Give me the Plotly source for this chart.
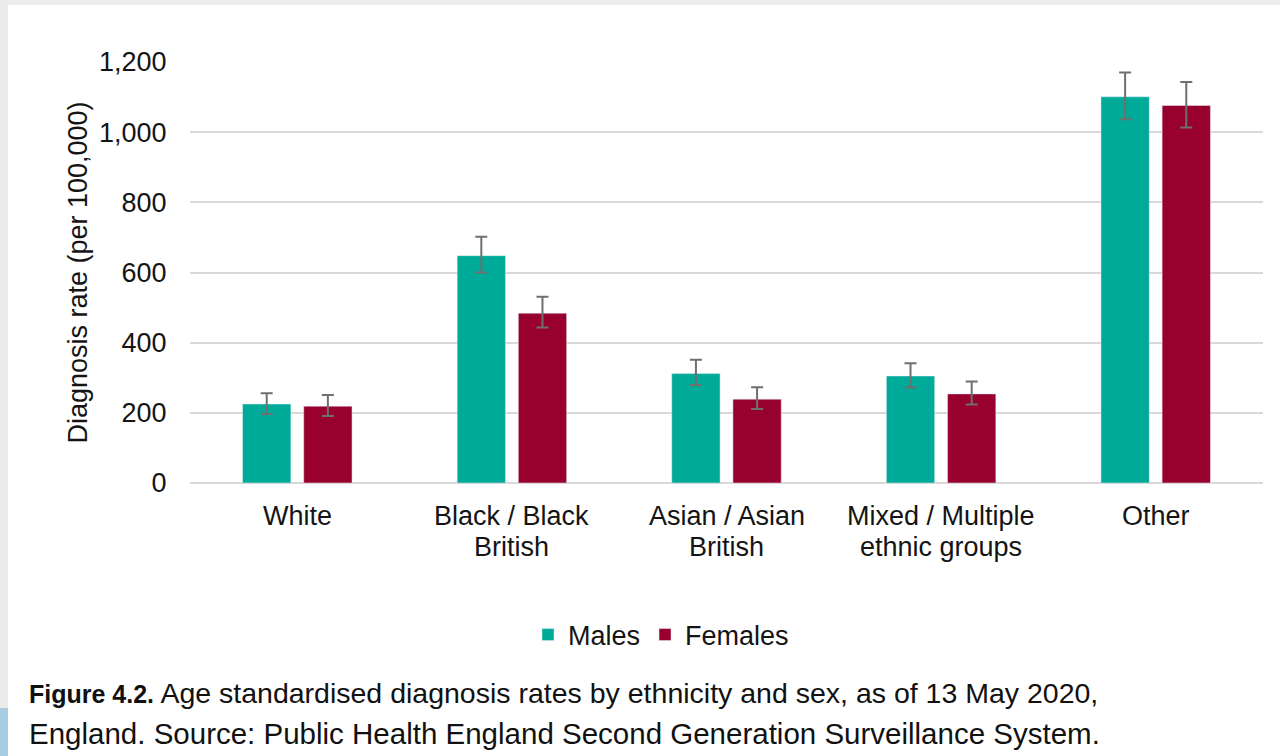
import plotly.graph_objects as go

# Age standardised diagnosis rates per 100,000 with 95% confidence limits
categories = ["White", "Black / Black British", "Asian / Asian British",
              "Mixed / Multiple ethnic groups", "Other"]
category_lines = [["White"], ["Black / Black", "British"], ["Asian / Asian", "British"],
                  ["Mixed / Multiple", "ethnic groups"], ["Other"]]
males = [225, 648, 312, 305, 1101]
males_low = [197, 600, 279, 272, 1037]
males_high = [256, 702, 351, 341, 1170]
females = [219, 484, 239, 254, 1076]
females_low = [191, 443, 211, 224, 1013]
females_high = [251, 531, 273, 289, 1143]
y_ticks = [0, 200, 400, 600, 800, 1000, 1200]
y_tick_text = ["0", "200", "400", "600", "800", "1,000", "1,200"]

W, H = 1280, 756
L, R, T, B = 190, 17, 62, 273
PW, PH = W - L - R, H - T - B


def px_x(x):
    return (x - L) / PW


def px_y(y):
    return (H - B - y) / PH


FONT = "Liberation Sans, Arial, sans-serif"
TEXT = "#141414"
TEAL = "#00AA99"
MAROON = "#98002E"
ERR = "#6f6f6f"
FS = 27


def err(vals, lo, hi, color):
    return dict(type="data", symmetric=False,
                array=[h - v for v, h in zip(vals, hi)],
                arrayminus=[v - l for v, l in zip(vals, lo)],
                color=color, thickness=2, width=6)


fig = go.Figure()
fig.add_bar(x=categories, y=males, name="Males", marker_color=TEAL,
            error_y=err(males, males_low, males_high, ERR))
fig.add_bar(x=categories, y=females, name="Females", marker_color=MAROON,
            error_y=err(females, females_low, females_high, ERR))

fig.update_layout(
    width=W, height=H,
    margin=dict(l=L, r=R, t=T, b=B, pad=0),
    paper_bgcolor="white", plot_bgcolor="white",
    barmode="group", bargap=0.43, bargroupgap=0.21,
    font=dict(family=FONT, color=TEXT, size=FS),
    showlegend=True,
    legend=dict(orientation="h", xref="container", yref="container",
                x=661 / W, y=1 - 635 / H, xanchor="center", yanchor="middle",
                font=dict(size=FS), itemwidth=30, traceorder="normal",
                bgcolor="rgba(0,0,0,0)"),
)

fig.update_yaxes(
    range=[0, 1200], tickvals=y_ticks, ticktext=y_tick_text,
    showgrid=True, gridcolor="#d9d9d9", gridwidth=1.5,
    zeroline=True, zerolinecolor="#d9d9d9", zerolinewidth=1.5,
    showline=False, ticks="outside", ticklen=17, tickcolor="rgba(0,0,0,0)",
    tickfont=dict(size=FS),
    title=dict(text="Diagnosis rate (per 100,000)", font=dict(size=FS), standoff=3),
)
fig.update_xaxes(showgrid=False, showline=False, showticklabels=False)

# Category labels, one annotation per text line
for cat, lines in zip(categories, category_lines):
    for i, line in enumerate(lines):
        fig.add_annotation(
            x=cat, xref="x", yref="paper", y=px_y(516 + 31 * i),
            xanchor="center", yanchor="middle", showarrow=False,
            text=line, font=dict(size=FS, color=TEXT, family=FONT),
        )

# Caption below the chart
caption = [
    ("<b><span style=\"font-size:25px\">Figure 4.2.</span></b> Age standardised diagnosis rates by ethnicity and sex, as of 13 May 2020,", 28.5),
    ("England. Source: Public Health England Second Generation Surveillance System.", 29.5),
]
for i, (line, size) in enumerate(caption):
    fig.add_annotation(
        xref="paper", yref="paper", x=px_x(27), y=px_y(693 + 40 * i),
        xanchor="left", yanchor="middle", align="left", showarrow=False,
        text=line, font=dict(size=size, color="#111111", family=FONT),
    )

# Page frame: grey strips on the top and left edges, blue tab at bottom left
fig.add_shape(type="rect", xref="paper", yref="paper", layer="below",
              x0=px_x(0), x1=px_x(W), y0=px_y(0), y1=px_y(5),
              fillcolor="#ececec", line_width=0)
fig.add_shape(type="rect", xref="paper", yref="paper", layer="below",
              x0=px_x(0), x1=px_x(8), y0=px_y(0), y1=px_y(H),
              fillcolor="#ececec", line_width=0)
fig.add_shape(type="rect", xref="paper", yref="paper", layer="below",
              x0=px_x(0), x1=px_x(8), y0=px_y(708), y1=px_y(H),
              fillcolor="#a9cde3", line_width=0)

fig.write_html("out.html")
